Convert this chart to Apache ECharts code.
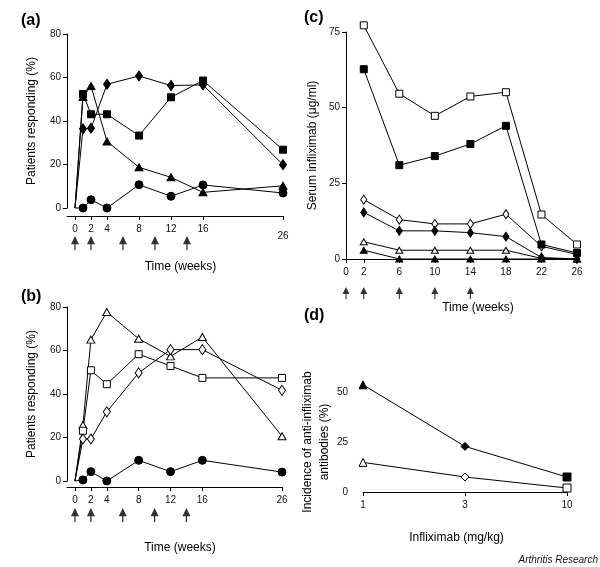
<!DOCTYPE html>
<html>
<head>
<meta charset="utf-8">
<script src="https://cdn.jsdelivr.net/npm/echarts@6/dist/echarts.min.js"></script>
<style>
  html, body { margin: 0; padding: 0; background: #fff; }
  #chart { width: 600px; height: 567px; }
</style>
</head>
<body>
<div id="chart"></div>
<script>
// panels (a) and (b): weeks of visits
const weeksAB = [0, 1, 2, 4, 8, 12, 16, 26]
const ticksAB = [0, 2, 4, 8, 12, 16, 26]
const infusionAB = [0, 2, 6, 10, 14]

// (a) patients responding (%), filled markers
const aCircle = [0, 0, 3.8, 0, 10.7, 5.4, 10.6, 6.9]
const aSquare = [0, 52.4, 43.1, 43.1, 33.3, 50.9, 58.6, 26.8]
const aDiamond = [0, 36.4, 36.7, 56.9, 60.7, 56.3, 56.6, 19.9]
const aTriangle = [0, 51, 56.1, 30.6, 18.7, 14.1, 7.2, 10.2]

// (b) patients responding (%), open markers + placebo
const bCircle = [0, 0.5, 4.3, 0, 9.5, 4.3, 9.5, 4.1]
const bSquare = [0, 23.1, 50.9, 44.5, 58.3, 52.9, 47.4, 47.4]
const bDiamond = [0, 19.3, 19.3, 31.8, 49.7, 60.4, 60.4, 41.7]
const bTriangle = [0, 25.7, 65, 77.7, 65.4, 57.3, 66.2, 20.6]

// (c) serum infliximab (ug/ml)
const weeksC = [2, 6, 10, 14, 18, 22, 26]
const ticksC = [0, 2, 6, 10, 14, 18, 22, 26]
const infusionC = [0, 2, 6, 10, 14]
const cOpenSquare = [77.2, 54.6, 47.3, 53.7, 55.1, 14.7, 4.8]
const cSquare = [62.7, 31.0, 34.0, 38.0, 44.0, 4.8, 2.0]
const cOpenDiamond = [19.6, 13.0, 11.6, 11.6, 14.8, 4.2, 1.5]
const cDiamond = [15.4, 9.3, 9.3, 8.7, 7.4, 0.5, 0]
const cOpenTriangle = [5.7, 2.9, 2.9, 2.9, 2.9, 0.2, 0]
const cTriangle = [2.9, 0, 0, 0, 0, 0, 0]

// (d) anti-infliximab antibodies (%)
const doses = ['1', '3', '10']
const dFilled = [53.6, 22.8, 7.5]
const dOpen = [14.8, 7.5, 2]
const dSymbols = ['triangle', 'diamond', 'rect']

const font = 'Liberation Sans, Arial, sans-serif'
const black = '#000'
const arrow = 'path://M5 0 L10 10 L5.8 10 L5.8 17 L4.2 17 L4.2 10 L0 10 Z'

const chart = echarts.init(document.getElementById('chart'))

// line with markers on one grid
const makeLine = (idx, xs, ys, symbol, filled, size, fromOrigin) => ({
  type: 'line',
  xAxisIndex: idx,
  yAxisIndex: idx,
  data: ys.map((v, i) => {
    const item = { value: [xs[i], v] }
    if (fromOrigin && i === 0) item.symbol = 'none'
    return item
  }),
  symbol,
  symbolSize: size,
  showAllSymbol: true,
  clip: false,
  silent: true,
  z: filled ? 3 : 2,
  lineStyle: { color: black, width: 1 },
  itemStyle: { color: filled ? black : '#fff', borderColor: black, borderWidth: 1 }
})

// infusion arrows under the time axis
const makeArrows = (idx, weeks, size) => ({
  type: 'scatter',
  xAxisIndex: idx,
  yAxisIndex: idx,
  data: weeks.map(w => [w, 0]),
  symbol: arrow,
  symbolSize: size,
  silent: true,
  itemStyle: { color: black }
})

const axisBase = {
  axisLine: { onZero: false, lineStyle: { color: black, width: 1 } },
  axisTick: { length: 4, lineStyle: { color: black } },
  splitLine: { show: false },
  nameTextStyle: { fontSize: 12, color: black, fontFamily: font }
}
const labelBase = { fontSize: 10, color: '#111', fontFamily: font }

const timeAxis = (idx, min, max, ticks, offset, nameGap, pad, formatter) => ({
  ...axisBase,
  gridIndex: idx,
  type: 'value',
  min,
  max,
  offset,
  name: 'Time (weeks)',
  nameLocation: 'middle',
  nameGap,
  nameTextStyle: { ...axisBase.nameTextStyle, padding: pad },
  axisTick: { ...axisBase.axisTick, customValues: ticks },
  axisLabel: {
    ...labelBase,
    margin: 8,
    customValues: ticks,
    formatter: formatter || (v => String(v)),
    rich: { low: { fontSize: 10, color: '#111', fontFamily: font, padding: [7, 0, 0, 0] } }
  }
})

const hiddenAxis = (idx, min, max) => ({ gridIndex: idx, type: 'value', min, max, show: false })

const valueY = (idx, max, interval, name, nameGap) => ({
  ...axisBase,
  gridIndex: idx,
  type: 'value',
  min: 0,
  max,
  interval,
  name,
  nameLocation: 'middle',
  nameGap,
  axisLabel: { ...labelBase, margin: 6 }
})

const option = {
  animation: false,
  backgroundColor: '#fff',
  textStyle: { fontFamily: font },
  title: [
    { text: '(a)', left: 16, top: 8 },
    { text: '(b)', left: 16, top: 284 },
    { text: '(c)', left: 299, top: 5 },
    { text: '(d)', left: 299, top: 303 }
  ].map(t => ({ ...t, textStyle: { fontSize: 16, fontWeight: 'bold', color: black, fontFamily: font } })),
  graphic: [{
    type: 'text',
    right: 2,
    top: 555,
    style: { text: 'Arthritis Research', font: 'italic 10px Liberation Sans, Arial, sans-serif', fill: '#111' }
  }],
  grid: [
    { left: 67, top: 34, width: 216, height: 174 },
    { left: 67, top: 236, width: 216, height: 14 },
    { left: 67, top: 307, width: 215, height: 174 },
    { left: 67, top: 508, width: 215, height: 14 },
    { left: 346, top: 32, width: 231, height: 227 },
    { left: 346, top: 287, width: 231, height: 12 },
    { left: 363, top: 392, width: 204, height: 100 }
  ],
  xAxis: [
    timeAxis(0, -1, 26, ticksAB, 8, 45, [0, 0, 0, 11], v => (v === 26 ? '{low|26}' : String(v))),
    hiddenAxis(1, -1, 26),
    timeAxis(2, -1, 26, ticksAB, 6, 55, [0, 0, 0, 11]),
    hiddenAxis(3, -1, 26),
    timeAxis(4, 0, 26, ticksC, 0, 43, [0, 0, 0, 33]),
    hiddenAxis(5, 0, 26),
    {
      ...axisBase,
      gridIndex: 6,
      type: 'category',
      data: doses,
      boundaryGap: false,
      name: 'Infliximab (mg/kg)',
      nameLocation: 'middle',
      nameGap: 40,
      nameTextStyle: { ...axisBase.nameTextStyle, padding: [0, 17, 0, 0] },
      axisTick: { ...axisBase.axisTick, alignWithLabel: true },
      axisLabel: { ...labelBase, margin: 8 }
    }
  ],
  yAxis: [
    valueY(0, 80, 20, 'Patients responding (%)', 29),
    hiddenAxis(1, -1, 1),
    valueY(2, 80, 20, 'Patients responding (%)', 29),
    hiddenAxis(3, -1, 1),
    valueY(4, 75, 25, 'Serum infliximab (\u03bcg/ml)', 27),
    hiddenAxis(5, -1, 1),
    {
      ...valueY(6, 50, 25, 'Incidence of anti-infliximab\nantibodies (%)', 12),
      offset: 9,
      nameTextStyle: { ...axisBase.nameTextStyle, lineHeight: 17 }
    }
  ],
  series: [
    // (a)
    makeLine(0, weeksAB, aTriangle, 'triangle', true, [8, 7], true),
    makeLine(0, weeksAB, aCircle, 'circle', true, 8, true),
    makeLine(0, weeksAB, aDiamond, 'diamond', true, [7, 10], true),
    makeLine(0, weeksAB, aSquare, 'rect', true, 7, true),
    makeArrows(1, infusionAB, [8, 14]),
    // (b)
    makeLine(2, weeksAB, bCircle, 'circle', true, 8, true),
    makeLine(2, weeksAB, bTriangle, 'triangle', false, [8, 7], true),
    makeLine(2, weeksAB, bDiamond, 'diamond', false, [7, 10], true),
    makeLine(2, weeksAB, bSquare, 'rect', false, 7, true),
    makeArrows(3, infusionAB, [8, 14]),
    // (c)
    makeLine(4, weeksC, cTriangle, 'triangle', true, [7, 6]),
    makeLine(4, weeksC, cOpenTriangle, 'triangle', false, [7, 6]),
    makeLine(4, weeksC, cDiamond, 'diamond', true, [6, 9]),
    makeLine(4, weeksC, cOpenDiamond, 'diamond', false, [6, 9]),
    makeLine(4, weeksC, cOpenSquare, 'rect', false, 7),
    makeLine(4, weeksC, cSquare, 'rect', true, 7),
    makeArrows(5, infusionC, [7, 12]),
    // (d)
    {
      ...makeLine(6, doses, dOpen, 'rect', false, 8),
      data: dOpen.map((v, i) => ({ value: v, symbol: dSymbols[i] }))
    },
    {
      ...makeLine(6, doses, dFilled, 'rect', true, 8),
      data: dFilled.map((v, i) => ({ value: v, symbol: dSymbols[i] }))
    }
  ]
}

chart.setOption(option)
</script>
</body>
</html>
